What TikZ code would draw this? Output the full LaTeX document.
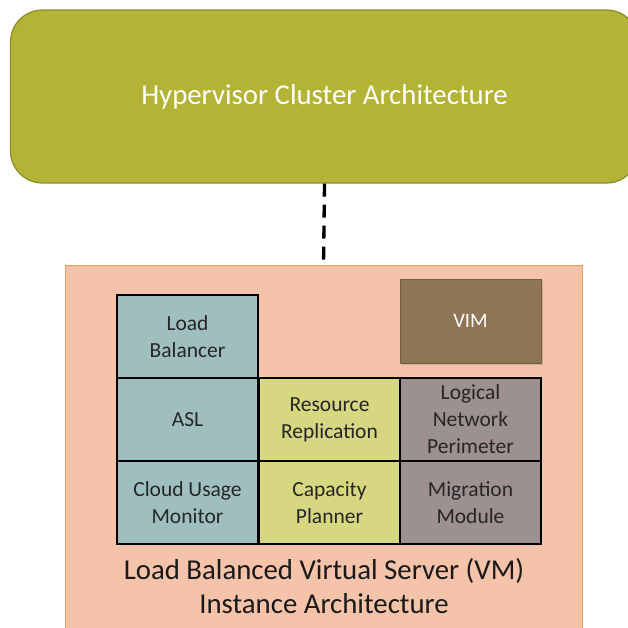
\documentclass[tikz,border=0pt]{standalone}
\usepackage{fontspec}
\setmainfont{Carlito}
\usetikzlibrary{shadows}
\definecolor{olivefill}{HTML}{B3B336}
\definecolor{olivedraw}{HTML}{8C8C28}
\definecolor{peach}{HTML}{F4C3A9}
\definecolor{peachdraw}{HTML}{EB9A5A}
\definecolor{tealc}{HTML}{9EBFBE}
\definecolor{yellowc}{HTML}{D6D780}
\definecolor{grayc}{HTML}{9D9090}
\definecolor{vimc}{HTML}{8E7556}
\begin{document}
\begin{tikzpicture}[x=1pt,y=-1pt,
  cell/.style={draw=black,line width=2.2pt,minimum width=141pt,minimum height=83pt,
    align=center,inner sep=0pt,font=\fontsize{21.5}{27}\selectfont,text=black!85},
  conn/.style={line width=3.3pt,dash pattern=on 13pt off 8pt}]
\useasboundingbox (0,0) rectangle (628,627);
\clip (0,0) rectangle (628,627);
\fill[white] (0,0) rectangle (628,627);
\node[draw=olivedraw,fill=olivefill,line width=1.2pt,rounded corners=32pt,
  minimum width=628pt,minimum height=173pt,text=white,
  font=\fontsize{28.8}{34}\selectfont] (hca) at (324.5,96.5) {Hypervisor Cluster Architecture};
\node[draw=peachdraw,fill=peach,line width=0.8pt,minimum width=517pt,minimum height=380pt,
  inner sep=0pt] (inst) at (323.5,455) {};
\draw[conn] (hca.south) -- (inst.north);
\node[fill=vimc,draw=vimc!80!black,line width=0.6pt,minimum width=141pt,minimum height=84pt,
  drop shadow={shadow xshift=2pt,shadow yshift=-2pt,opacity=0.35},
  text=white,font=\fontsize{20.5}{27}\selectfont] (vim) at (470.5,321) {VIM};
\node[cell,fill=tealc] (lb) at (187.5,336.5) {Load\\Balancer};
\node[cell,fill=tealc] (asl) at (187.5,419.5) {ASL};
\node[cell,fill=tealc] (cum) at (187.5,502.5) {Cloud Usage\\Monitor};
\node[cell,fill=yellowc] (rr) at (329.5,419.5) {Resource\\Replication};
\node[cell,fill=yellowc] (cp) at (329.5,502.5) {Capacity\\Planner};
\node[cell,fill=grayc] (lnp) at (470.5,419.5) {Logical\\Network\\Perimeter};
\node[cell,fill=grayc] (mm) at (470.5,502.5) {Migration\\Module};
\node[align=center,font=\fontsize{28.8}{34}\selectfont,inner sep=0pt,text=black!90] (lbl) at (324,586)
  {Load Balanced Virtual Server (VM)\\Instance Architecture};
\end{tikzpicture}
\end{document}
